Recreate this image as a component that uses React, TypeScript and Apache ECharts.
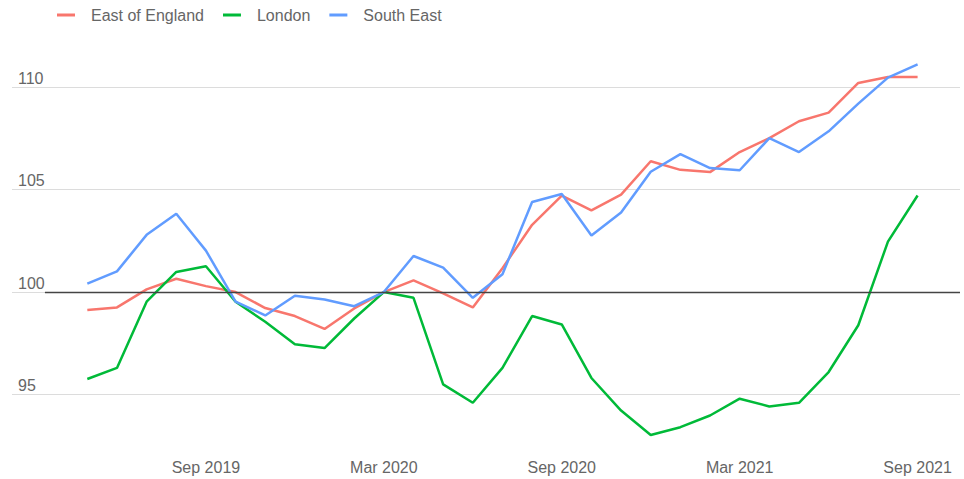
import React, { useEffect, useRef } from "react";
import * as echarts from "echarts";

const months = [
  "May 2019", "Jun 2019", "Jul 2019", "Aug 2019", "Sep 2019", "Oct 2019", "Nov 2019", "Dec 2019",
  "Jan 2020", "Feb 2020", "Mar 2020", "Apr 2020", "May 2020", "Jun 2020", "Jul 2020", "Aug 2020",
  "Sep 2020", "Oct 2020", "Nov 2020", "Dec 2020", "Jan 2021", "Feb 2021", "Mar 2021", "Apr 2021",
  "May 2021", "Jun 2021", "Jul 2021", "Aug 2021", "Sep 2021",
];

const tickLabels = ["Sep 2019", "Mar 2020", "Sep 2020", "Mar 2021", "Sep 2021"];

const eastOfEngland = [
  99.12, 99.25, 100.13, 100.65, 100.29, 100.0, 99.22, 98.83, 98.2, 99.2, 100.0, 100.57, 99.94, 99.25,
  101.16, 103.28, 104.7, 103.98, 104.75, 106.38, 105.96, 105.85, 106.83, 107.51, 108.33, 108.75,
  110.2, 110.49, 110.49,
];

const london = [
  95.76, 96.3, 99.53, 100.98, 101.26, 99.53, 98.55, 97.45, 97.27, 98.71, 100.0, 99.72, 95.5, 94.6,
  96.3, 98.83, 98.42, 95.81, 94.22, 93.03, 93.41, 93.98, 94.8, 94.42, 94.6, 96.1, 98.38, 102.46,
  104.71,
];

const southEast = [
  100.41, 101.01, 102.79, 103.82, 102.02, 99.53, 98.86, 99.82, 99.64, 99.31, 100.0, 101.76, 101.19,
  99.72, 100.87, 104.39, 104.78, 102.76, 103.88, 105.87, 106.73, 106.05, 105.94, 107.51, 106.83,
  107.84, 109.19, 110.46, 111.1,
];

const baseline = 100;

// The chart canvas is taller than the window and shifted up so that the
// 90 and 115 grid lines fall outside the visible 964x479 area.
const SHIFT = 16;
const CANVAS_H = 530;

export default function App() {
  const ref = useRef<HTMLDivElement>(null);

  useEffect(() => {
    if (!ref.current) return;
    const chart = echarts.init(ref.current, null, { renderer: "svg" });
    const toPairs = (arr: number[]) => arr.map((v, i) => [i, v]);
    const font = "Arial, 'Liberation Sans', sans-serif";
    chart.setOption({
      animation: false,
      textStyle: { fontFamily: font },
      legend: {
        left: 57,
        top: 6 + SHIFT,
        padding: 0,
        icon: "rect",
        itemWidth: 18,
        itemHeight: 3,
        itemGap: 19,
        selectedMode: false,
        textStyle: {
          fontFamily: font,
          fontSize: 16,
          color: "#666",
          lineHeight: 18,
          padding: [0, 0, 0, 11],
        },
      },
      grid: {
        left: 12,
        right: 4,
        top: 0.5,
        height: 512.6,
        outerBoundsMode: "none",
        containLabel: false,
      },
      xAxis: {
        type: "value",
        min: -2.54,
        max: 29.43,
        offset: -38,
        axisLine: { show: false },
        axisTick: { show: false },
        splitLine: { show: false },
        axisLabel: {
          customValues: tickLabels.map((t) => months.indexOf(t)),
          formatter: (v: number) => months[Math.round(v)] ?? "",
          color: "#666",
          fontSize: 16,
          fontFamily: font,
          margin: 0,
          verticalAlign: "top",
        },
      },
      yAxis: {
        type: "value",
        min: 90,
        max: 115,
        interval: 5,
        axisLine: { show: false },
        axisTick: { show: false },
        splitLine: { lineStyle: { color: "#dcdcdc", width: 1 } },
        axisLabel: {
          inside: true,
          margin: 6,
          color: "#666",
          fontSize: 16,
          fontFamily: font,
          verticalAlign: "bottom",
          padding: [0, 0, 1, 0],
          showMinLabel: false,
          showMaxLabel: false,
        },
      },
      series: [
        {
          name: "East of England",
          type: "line",
          data: toPairs(eastOfEngland),
          showSymbol: false,
          color: "#F8766D",
          lineStyle: { width: 2.5 },
          markLine: {
            silent: true,
            symbol: "none",
            label: { show: false },
            lineStyle: { color: "#444", width: 1.4, type: "solid" },
            data: [[{ coord: [-1.43, baseline] }, { coord: [29.43, baseline] }]],
          },
        },
        {
          name: "London",
          type: "line",
          data: toPairs(london),
          showSymbol: false,
          color: "#00BA38",
          lineStyle: { width: 2.5 },
        },
        {
          name: "South East",
          type: "line",
          data: toPairs(southEast),
          showSymbol: false,
          color: "#619CFF",
          lineStyle: { width: 2.5 },
        },
      ],
    });
    return () => chart.dispose();
  }, []);

  return (
    <div
      ref={ref}
      style={{
        position: "fixed",
        left: 0,
        top: -SHIFT,
        width: 964,
        height: CANVAS_H,
        background: "#fff",
      }}
    />
  );
}
